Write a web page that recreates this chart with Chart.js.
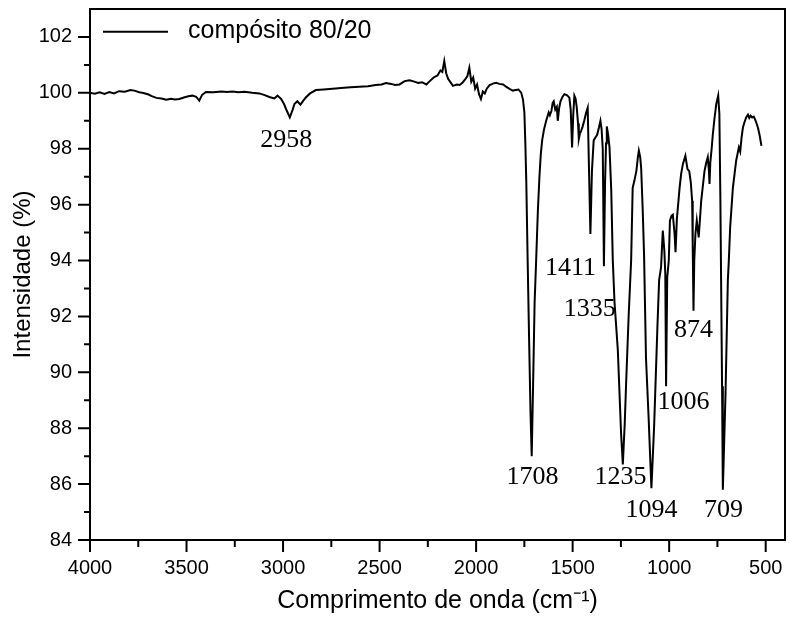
<!DOCTYPE html>
<html><head><meta charset="utf-8">
<script src="https://cdn.jsdelivr.net/npm/chart.js@4.4.0/dist/chart.umd.min.js"></script>
<style>html,body{margin:0;padding:0;background:#fff;}</style>
</head><body>
<canvas id="c" width="789" height="622"></canvas>
<script>
const wavenumbers = [
4000,3975,3950,3925,3900,3875,3850,3820,3790,3770,3745,3729,3700,3680,3656,3630,3605,3580,3560,3537,
3510,3490,3470,3450,3434,3420,3400,3360,3320,3290,3262,3230,3200,3160,3123,3095,3071,3045,3029,3010,
2995,2980,2965,2950,2941,2926,2910,2895,2880,2860,2830,2790,2743,2700,2650,2605,2560,2520,2490,2467,
2440,2420,2397,2370,2345,2320,2300,2280,2258,2240,2220,2200,2185,2175,2165,2155,2145,2135,2120,2100,
2085,2071,2055,2045,2035,2025,2015,2005,1995,1985,1975,1965,1955,1945,1930,1910,1896,1880,1860,1845,
1827,1810,1795,1780,1766,1757,1750,1745,1740,1733,1725,1718,1712,1705,1697,1689,1680,1672,1665,1658,
1648,1637,1624,1618,1610,1603,1598,1590,1582,1577,1570,1563,1553,1543,1530,1517,1510,1503,1497,1491,
1485,1479,1472,1468,1462,1456,1448,1440,1430,1422,1416,1408,1400,1391,1382,1373,1364,1356,1350,1344,
1338,1332,1327,1323,1316,1309,1300,1292,1283,1266,1249,1240,1230,1223,1210,1197,1189,1180,1170,1162,
1157,1150,1145,1137,1130,1120,1106,1098,1092,1078,1061,1052,1042,1033,1025,1020,1016,1010,1002,996,
988,981,972,967,960,946,938,929,916,905,896,888,881,878,874,870,864,857,847,834,
817,808,800,794,791,787,780,774,765,756,746,740,735,731,726,722,708,696,691,684,
670,653,639,632,625,618,610,601,592,585,578,570,562,555,549,540,532,522
];
const intensity = [
100.00,99.97,100.02,99.96,100.03,99.98,100.06,100.04,100.10,100.08,100.02,100.00,99.95,99.88,99.82,99.80,99.75,99.79,99.76,99.78,
99.84,99.88,99.90,99.86,99.72,99.92,100.03,100.02,100.05,100.03,100.05,100.02,100.04,100.00,99.98,99.92,99.85,99.80,99.90,99.78,
99.60,99.35,99.12,99.40,99.60,99.70,99.58,99.72,99.85,99.98,100.10,100.12,100.15,100.17,100.20,100.22,100.24,100.28,100.30,100.35,
100.32,100.28,100.30,100.42,100.45,100.40,100.35,100.38,100.30,100.42,100.55,100.62,100.80,100.75,101.14,100.70,100.50,100.40,100.25,100.30,
100.28,100.36,100.50,100.60,100.90,100.40,100.55,100.15,100.30,99.95,99.78,100.05,99.98,100.15,100.28,100.34,100.36,100.32,100.30,100.22,
100.14,100.08,100.10,100.12,100.00,99.75,99.30,98.20,96.80,94.00,91.00,88.50,87.00,89.50,92.50,94.00,95.80,97.00,97.80,98.30,
98.70,99.00,99.30,99.20,99.35,99.65,99.70,99.40,99.50,99.00,99.45,99.70,99.85,99.95,99.92,99.83,99.40,98.05,99.20,99.90,
99.80,99.50,98.90,98.35,98.55,98.64,98.80,99.00,99.30,99.47,97.50,94.95,97.20,98.30,98.40,98.50,98.75,99.00,98.70,98.00,
93.80,96.80,98.20,98.80,98.50,98.05,96.50,94.00,92.50,90.80,87.80,86.70,88.20,89.60,92.00,94.00,96.60,96.86,97.20,97.70,
97.93,97.70,97.30,95.80,94.20,90.50,88.30,86.90,85.85,88.05,91.60,93.30,93.76,95.07,94.36,93.50,89.50,93.40,94.00,95.43,
95.60,95.64,94.96,94.30,95.50,96.60,97.10,97.45,97.75,97.27,97.20,96.80,96.14,94.50,92.20,94.00,94.95,95.43,94.83,96.14,
97.20,97.50,97.70,97.20,96.74,97.50,98.00,98.50,99.10,99.60,99.90,99.25,96.40,93.30,89.50,85.80,89.25,93.30,94.00,95.20,
96.60,97.57,98.05,97.90,98.40,98.76,98.95,99.12,99.22,99.10,99.18,99.12,99.15,99.05,98.94,98.75,98.50,98.10
];
const seriesName = 'compósito 80/20';
const xMajorTicks = [500,1000,1500,2000,2500,3000,3500,4000];
const xMinorTicks = [750,1250,1750,2250,2750,3250,3750];
const yMajorTicks = [84,86,88,90,92,94,96,98,100,102];
const yMinorTicks = [85,87,89,91,93,95,97,99,101];
const peakLabels = ['2958','1411','1335','1708','1235','1094','709','874','1006'];
const peakLabelX = [2983,1511,1412,1708,1252,1092,719,874,926];
const peakLabelY = [98.39,93.82,92.32,86.32,86.32,85.14,85.14,91.57,89.0];

const points = wavenumbers.map((w, i) => ({x: w, y: intensity[i]}));

const framePlugin = {
  id: 'frame',
  afterDraw(chart) {
    const {ctx, chartArea: a, scales} = chart;
    const xs = scales.x, ys = scales.y;
    ctx.save();
    ctx.strokeStyle = '#000';
    ctx.lineWidth = 2;
    ctx.strokeRect(a.left, a.top, a.right - a.left, a.bottom - a.top);
    ctx.beginPath();
    xMajorTicks.forEach(v => { const p = xs.getPixelForValue(v); ctx.moveTo(p, a.bottom); ctx.lineTo(p, a.bottom + 12); });
    xMinorTicks.forEach(v => { const p = xs.getPixelForValue(v); ctx.moveTo(p, a.bottom); ctx.lineTo(p, a.bottom + 7); });
    yMajorTicks.forEach(v => { const p = ys.getPixelForValue(v); ctx.moveTo(a.left, p); ctx.lineTo(a.left - 12, p); });
    yMinorTicks.forEach(v => { const p = ys.getPixelForValue(v); ctx.moveTo(a.left, p); ctx.lineTo(a.left - 6, p); });
    ctx.stroke();
    // peak labels
    ctx.fillStyle = '#000';
    ctx.font = '26px "Liberation Serif"';
    ctx.textAlign = 'center';
    ctx.textBaseline = 'alphabetic';
    peakLabels.forEach((t, i) => {
      ctx.fillText(t, xs.getPixelForValue(peakLabelX[i]), ys.getPixelForValue(peakLabelY[i]) + 9);
    });
    // legend
    ctx.beginPath();
    ctx.lineWidth = 2;
    ctx.moveTo(a.left + 13, a.top + 22.7);
    ctx.lineTo(a.left + 78, a.top + 22.7);
    ctx.stroke();
    ctx.font = '25px "Liberation Sans"';
    ctx.textAlign = 'left';
    ctx.fillText(seriesName, a.left + 98, a.top + 28.5);
    ctx.restore();
  }
};

new Chart(document.getElementById('c'), {
  type: 'line',
  data: {
    datasets: [{
      label: seriesName,
      data: points,
      borderColor: '#000',
      borderWidth: 2,
      pointRadius: 0,
      tension: 0,
      fill: false
    }]
  },
  options: {
    responsive: false,
    animation: false,
    devicePixelRatio: 1,
    layout: {padding: {left: 0, right: 4, top: 9, bottom: 0}},
    plugins: {legend: {display: false}, tooltip: {enabled: false}},
    scales: {
      x: {
        type: 'linear', reverse: true, min: 400, max: 4000,
        afterBuildTicks: s => { s.ticks = xMajorTicks.map(v => ({value: v})); },
        ticks: {autoSkip: false, maxRotation: 0, padding: 4, color: '#000', font: {family: '"Liberation Sans"', size: 20}, callback: v => String(v)},
        grid: {display: false, drawTicks: true, tickLength: 12},
        border: {display: false},
        title: {display: true, text: 'Comprimento de onda (cm⁻¹)', color: '#000', font: {family: '"Liberation Sans"', size: 25}, padding: {top: 0, bottom: 6}},
        afterFit: s => { s.height = 82; s.paddingLeft = 0; s.paddingRight = 0; }
      },
      y: {
        min: 84, max: 103,
        afterBuildTicks: s => { s.ticks = yMajorTicks.map(v => ({value: v})); },
        ticks: {autoSkip: false, padding: 6, color: '#000', font: {family: '"Liberation Sans"', size: 20}, callback: v => String(v)},
        grid: {display: false, drawTicks: true, tickLength: 12},
        border: {display: false},
        title: {display: true, text: 'Intensidade (%)', color: '#000', font: {family: '"Liberation Sans"', size: 24}, padding: {top: 9, bottom: 0}},
        afterFit: s => { s.width = 90; s.paddingTop = 0; s.paddingBottom = 0; }
      }
    }
  },
  plugins: [framePlugin]
});
</script>
</body></html>
